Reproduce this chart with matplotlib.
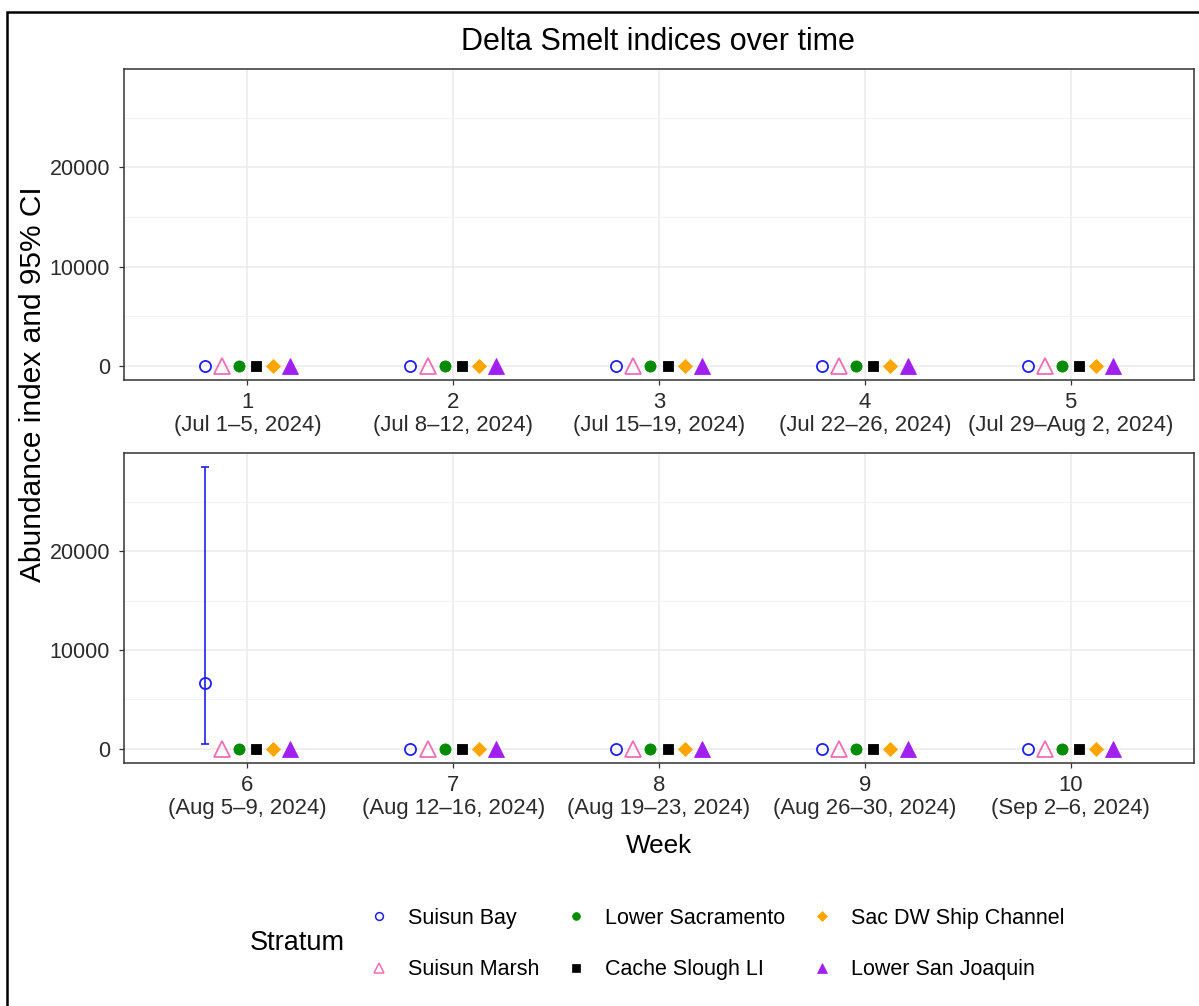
import matplotlib
matplotlib.use("Agg")
import matplotlib.pyplot as plt
from matplotlib.lines import Line2D
from matplotlib.patches import Rectangle
from matplotlib.ticker import MultipleLocator
import numpy as np

plt.rcParams['font.family'] = ['Liberation Sans', 'DejaVu Sans']

# ---- data -------------------------------------------------------------
weeks = [1, 2, 3, 4, 5, 6, 7, 8, 9, 10]
week_dates = ["Jul 1–5, 2024", "Jul 8–12, 2024", "Jul 15–19, 2024",
              "Jul 22–26, 2024", "Jul 29–Aug 2, 2024", "Aug 5–9, 2024",
              "Aug 12–16, 2024", "Aug 19–23, 2024", "Aug 26–30, 2024",
              "Sep 2–6, 2024"]
strata = ["Suisun Bay", "Suisun Marsh", "Lower Sacramento",
          "Cache Slough LI", "Sac DW Ship Channel", "Lower San Joaquin"]

# weekly abundance index and 95% CI per stratum
suisun_bay = [0, 0, 0, 0, 0, 6650, 0, 0, 0, 0]
suisun_bay_lo = [0, 0, 0, 0, 0, 500, 0, 0, 0, 0]
suisun_bay_hi = [0, 0, 0, 0, 0, 28500, 0, 0, 0, 0]
suisun_marsh = [0, 0, 0, 0, 0, 0, 0, 0, 0, 0]
lower_sacramento = [0, 0, 0, 0, 0, 0, 0, 0, 0, 0]
cache_slough = [0, 0, 0, 0, 0, 0, 0, 0, 0, 0]
sac_dw_ship = [0, 0, 0, 0, 0, 0, 0, 0, 0, 0]
lower_san_joaquin = [0, 0, 0, 0, 0, 0, 0, 0, 0, 0]

index = {
    "Suisun Bay": (suisun_bay, suisun_bay_lo, suisun_bay_hi),
    "Suisun Marsh": (suisun_marsh, suisun_marsh, suisun_marsh),
    "Lower Sacramento": (lower_sacramento, lower_sacramento, lower_sacramento),
    "Cache Slough LI": (cache_slough, cache_slough, cache_slough),
    "Sac DW Ship Channel": (sac_dw_ship, sac_dw_ship, sac_dw_ship),
    "Lower San Joaquin": (lower_san_joaquin, lower_san_joaquin, lower_san_joaquin),
}

# ---- styles -----------------------------------------------------------
styles = {
    "Suisun Bay":          dict(marker="o", color="#1F1FF0", filled=False, ms=8.0),
    "Suisun Marsh":        dict(marker="^", color="#F06EB4", filled=False, ms=11.0),
    "Lower Sacramento":    dict(marker="o", color="#008B00", filled=True, ms=8.0),
    "Cache Slough LI":     dict(marker="s", color="#000000", filled=True, ms=7.8),
    "Sac DW Ship Channel": dict(marker="D", color="#FFA500", filled=True, ms=7.0),
    "Lower San Joaquin":   dict(marker="^", color="#A020F0", filled=True, ms=11.0),
}

W, H = 1199, 1006
fig = plt.figure(figsize=(W / 100, H / 100), dpi=100)


def fx(px):
    return px / W


def fy(py):
    return 1 - py / H


ax_top = fig.add_axes([fx(124), fy(380), fx(1194) - fx(124), (380 - 69) / H])
ax_bot = fig.add_axes([fx(124), fy(763), fx(1194) - fx(124), (763 - 453) / H])

dodge_width = 0.5
n = len(strata)
all_lo = min(min(v[1]) for v in index.values())
all_hi = max(max(v[2]) for v in index.values())
rng = all_hi - all_lo
ylim = (all_lo - 0.05 * rng, all_hi + 0.05 * rng)

panels = [(ax_top, weeks[:5]), (ax_bot, weeks[5:])]
wk = np.array(weeks)

for ax, pw in panels:
    sel = np.isin(wk, pw)
    # error bars first, then points
    for i, s in enumerate(strata):
        off = (i - (n - 1) / 2) * dodge_width / n
        y, lo, hi = (np.array(a, dtype=float) for a in index[s])
        x = wk + off
        m = sel & (hi > lo)
        if m.any():
            ax.errorbar(x[m], y[m], yerr=[y[m] - lo[m], hi[m] - y[m]],
                        fmt="none", ecolor=styles[s]["color"],
                        elinewidth=1.2, capsize=3.2, capthick=1.2, zorder=3)
    for i, s in enumerate(strata):
        off = (i - (n - 1) / 2) * dodge_width / n
        y = np.array(index[s][0], dtype=float)
        x = wk + off
        st = styles[s]
        ax.plot(x[sel], y[sel], linestyle="none", marker=st["marker"],
                markersize=st["ms"],
                markerfacecolor=st["color"] if st["filled"] else "none",
                markeredgecolor=st["color"],
                markeredgewidth=1.3 if not st["filled"] else 0.6,
                zorder=4, clip_on=False)

    ax.set_xlim(pw[0] - 0.6, pw[-1] + 0.6)
    ax.set_ylim(*ylim)
    ax.set_xticks(pw)
    ax.set_xticklabels([f"{w}\n({week_dates[w - 1]})" for w in pw],
                       fontsize=15.9, color="#2B2B2B", linespacing=1.1)
    ax.set_yticks([0, 10000, 20000])
    ax.set_yticklabels(["0", "10000", "20000"], fontsize=15.5, color="#2B2B2B")
    ax.yaxis.set_minor_locator(MultipleLocator(5000))
    ax.set_axisbelow(True)
    ax.grid(which="major", color="#EBEBEB", linewidth=1.1)
    ax.grid(which="minor", axis="y", color="#F2F2F2", linewidth=0.8)
    ax.tick_params(which="major", direction="out", length=3.5, width=0.9,
                   color="#333333")
    ax.tick_params(axis="x", which="major", pad=5.2)
    ax.tick_params(axis="y", which="major", pad=6.5)
    ax.tick_params(which="minor", length=0)
    for sp in ax.spines.values():
        sp.set_color("#333333")
        sp.set_linewidth(1.1)

ax_bot.set_xlabel("Week", fontsize=18.8, color="black", labelpad=11)

fig.text(fx(33), fy(384), "Abundance index and 95% CI", rotation=90,
         ha="center", va="center", fontsize=21.5, color="black")
fig.text(fx(658), fy(42), "Delta Smelt indices over time",
         ha="center", va="center", fontsize=22, color="black")

# legend
handles = []
for s in strata:
    st = styles[s]
    lms = st["ms"] * 0.7
    handles.append(Line2D([], [], linestyle="none", marker=st["marker"],
                          markersize=lms,
                          markerfacecolor=st["color"] if st["filled"] else "none",
                          markeredgecolor=st["color"],
                          markeredgewidth=1.1 if not st["filled"] else 0.5))
fig.legend(handles, strata, loc="center left",
           bbox_to_anchor=(fx(368), fy(944)), ncol=3, frameon=False,
           fontsize=15.5, handlelength=1.0, handletextpad=0.85,
           columnspacing=1.2, labelspacing=1.4, borderpad=0,
           borderaxespad=0)
fig.text(fx(250), fy(943), "Stratum", ha="left", va="center", fontsize=19.5)

# outer frame
fig.add_artist(Rectangle((fx(7), fy(1100)), fx(1300) - fx(7), (1100 - 12) / H,
                         transform=fig.transFigure, fill=False,
                         edgecolor="black", linewidth=1.8, clip_on=False))

fig.savefig("out.png", dpi=100, facecolor="white")
